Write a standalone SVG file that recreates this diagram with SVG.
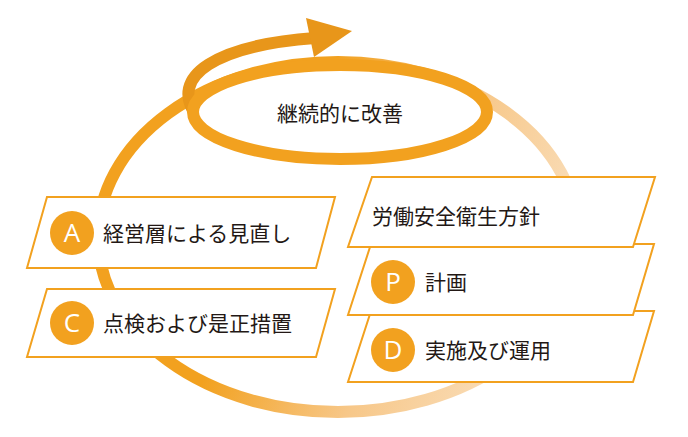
<svg xmlns="http://www.w3.org/2000/svg" width="688" height="437" viewBox="0 0 688 437">
<defs>
<linearGradient id="g" x1="0" y1="0" x2="1" y2="0.3">
<stop offset="0" stop-color="#f2a11f"/>
<stop offset="0.45" stop-color="#f2a11f"/>
<stop offset="0.75" stop-color="#f7c788"/>
<stop offset="1" stop-color="#f9dbb4"/>
</linearGradient>
<style>
.box{fill:#fff;stroke:#f2a11f;stroke-width:2}
.c{fill:#f2a11f}
.l{font-family:"Open Sans","Liberation Sans",sans-serif;font-size:26px;fill:#fff;text-anchor:middle}
.t{font-family:"Noto Sans CJK JP",sans-serif;font-size:21px;fill:#231815}
</style>
</defs>
<g id="connectors">
<ellipse cx="338" cy="237" rx="240" ry="175" fill="none" stroke="url(#g)" stroke-width="12"/>
<path d="M198 118 C165 75 220 45 315 38" fill="none" stroke="#e8961a" stroke-width="12"/>
<polygon points="352,31 306,18 314,57" fill="#e8961a"/>
<ellipse cx="340" cy="112" rx="147" ry="47" fill="#fff" stroke="#f2a11f" stroke-width="12"/>
</g>
<g id="kaizen"><text class="t" x="340" y="121" text-anchor="middle" font-size="23">継続的に改善</text></g>
<g id="A">
<polygon class="box" points="47,197 335,197 316,268 27,268"/>
<circle class="c" cx="72" cy="233" r="22"/><text class="l" x="72" y="242">A</text>
<text class="t" x="103" y="241">経営層による見直し</text>
</g>
<g id="C">
<polygon class="box" points="47,289 335,289 316,357 27,357"/>
<circle class="c" cx="72" cy="323" r="22"/><text class="l" x="72" y="332">C</text>
<text class="t" x="103" y="331">点検および是正措置</text>
</g>
<g id="D">
<polygon class="box" points="371,311 654,311 633,382 348,382"/>
<circle class="c" cx="393" cy="350" r="22"/><text class="l" x="393" y="359">D</text>
<text class="t" x="425" y="358">実施及び運用</text>
</g>
<g id="P">
<polygon class="box" points="371,244 654,244 633,315 348,315"/>
<circle class="c" cx="393" cy="282" r="22"/><text class="l" x="393" y="291">P</text>
<text class="t" x="425" y="290">計画</text>
</g>
<g id="policy">
<polygon class="box" points="372,177 655,177 633,247 348,247"/>
<text class="t" x="372" y="224">労働安全衛生方針</text>
</g>
</svg>
